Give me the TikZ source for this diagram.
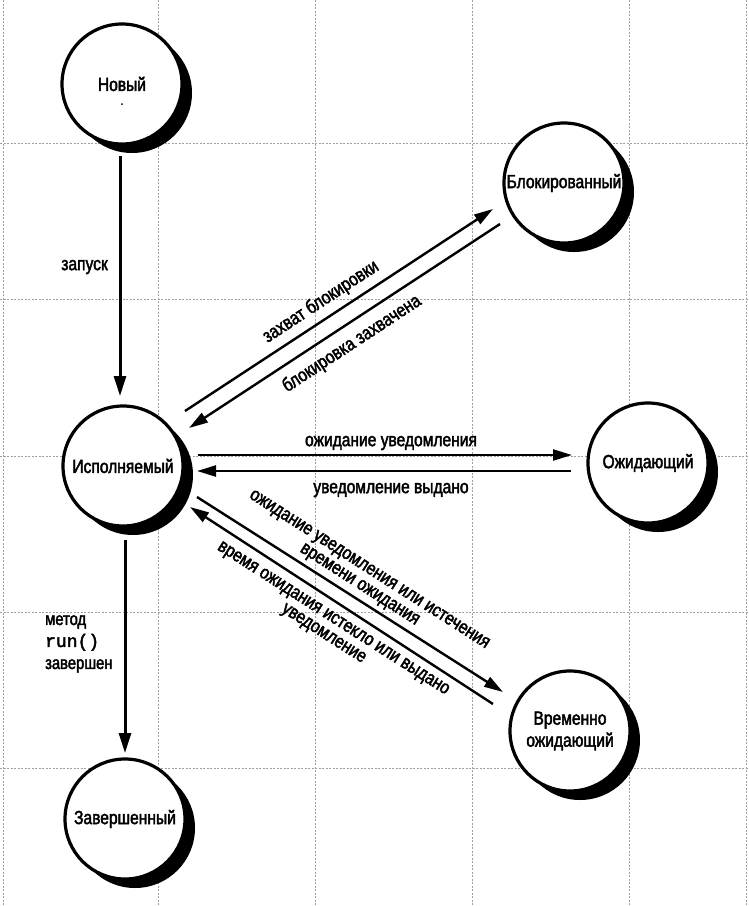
\documentclass[tikz,border=0pt]{standalone}
\usepackage{fontspec}
\setmainfont{Liberation Sans}[FakeStretch=0.82,FakeBold=2.2]
\newfontfamily\monofnt{Liberation Mono}[FakeBold=2.5]
\usetikzlibrary{arrows.meta,shadows}
\begin{document}
\begin{tikzpicture}[x=1pt,y=-1pt,
  state/.style={circle,draw=black,line width=3.2pt,fill=white,minimum size=120pt,inner sep=0pt,align=center,
    font=\fontsize{19}{22}\selectfont,
    drop shadow={shadow xshift=10pt,shadow yshift=-9pt,opacity=1,fill=black}},
  trans/.style={line width=2.4pt,-{Triangle[length=19pt,width=11pt]}},
  vtrans/.style={line width=3pt,-{Triangle[length=20pt,width=12pt]}},
  lbl/.style={font=\fontsize{19}{18}\selectfont,inner sep=0pt,align=center},
  gridline/.style={gray!75,line width=0.7pt,dash pattern=on 2pt off 1.5pt}]
\useasboundingbox (0,0) rectangle (748,906);
\fill[white] (0,0) rectangle (748,906);
% background grid
\foreach \gx in {3,158,315,472,629,746} \draw[gridline] (\gx,0) -- (\gx,906);
\foreach \gy in {143,299,456,612,768} \draw[gridline] (0,\gy) -- (748,\gy);
% states
\node[state] (nov) at (122,84) {Новый};
\node[state] (blk) at (564,183) {Блокированный};
\node[state] (isp) at (123,466) {Исполняемый};
\node[state] (ozh) at (648,463) {Ожидающий};
\node[state] (vr)  at (570,731) {Временно\\ожидающий};
\node[state] (zav) at (125,819) {Завершенный};
\fill ([shift={(0,20)}]nov.center) circle (1pt);
% transitions
\draw[vtrans] ([shift={(-2,72)}]nov.center) -- ([shift={(-3,-70)}]isp.center);
\draw[vtrans] ([shift={(2,74)}]isp.center) -- ([shift={(0,-66)}]zav.center);
\draw[trans] ([shift={(62,-55)}]isp.center) -- ([shift={(-71,26)}]blk.center);
\draw[trans] ([shift={(-64,41)}]blk.center) -- ([shift={(66,-38)}]isp.center);
\draw[trans] ([shift={(75,-11)}]isp.center) -- ([shift={(-76,-8)}]ozh.center);
\draw[trans] ([shift={(-77,8)}]ozh.center) -- ([shift={(74,5)}]isp.center);
\draw[trans] ([shift={(74,31)}]isp.center) -- ([shift={(-67,-39)}]vr.center);
\draw[trans] ([shift={(-77,-27)}]vr.center) -- ([shift={(67,41)}]isp.center);
% labels
\node[lbl,anchor=east] (l1) at (108,267) {запуск};
\node[lbl,align=left,anchor=west,font=\fontsize{18}{22}\selectfont] (l2) at (45,644) {метод\\{\monofnt run()}\\завершен};
\node[lbl,rotate=33.3] (l3) at (321,302) {захват блокировки};
\node[lbl,rotate=33.3] (l4) at (352,344) {блокировка захвачена};
\node[lbl] (l5) at (391,443) {ожидание уведомления};
\node[lbl] (l6) at (391,490) {уведомление выдано};
\node[lbl,rotate=-32.5] (l7) at (364,578) {ожидание уведомления или истечения\\времени ожидания};
\node[lbl,rotate=-32.5] (l8) at (328,627) {время ожидания истекло или выдано\\уведомление};
\end{tikzpicture}
\end{document}
